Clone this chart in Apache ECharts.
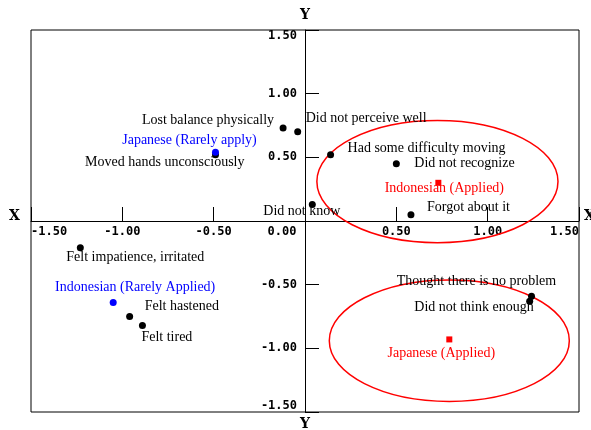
<!DOCTYPE html>
<html>
<head>
<meta charset="utf-8">
<script src="https://cdn.jsdelivr.net/npm/echarts@6/dist/echarts.min.js"></script>
<style>
  html, body { margin: 0; padding: 0; background: #fff; }
  #main { width: 591px; height: 430px; }
</style>
</head>
<body>
<div id="main"></div>
<script>
// black points (items)
const itemNames = [
  'Lost balance physically', 'Did not perceive well', 'Moved hands unconsciously',
  'Had some difficulty moving', 'Did not recognize', 'Forgot about it', 'Did not know',
  'Felt impatience, irritated', 'Felt hastened', 'Felt tired',
  'Thought there is no problem', 'Did not think enough'
];
const itemX = [-0.12, -0.04, -0.49, 0.14, 0.50, 0.58, 0.04, -1.23, -0.96, -0.89, 1.24, 1.23];
const itemY = [0.73, 0.70, 0.52, 0.52, 0.45, 0.05, 0.13, -0.21, -0.75, -0.82, -0.59, -0.63];

// blue points (rarely applied groups)
const blueNames = ['Japanese (Rarely apply)', 'Indonesian (Rarely Applied)'];
const blueX = [-0.49, -1.05];
const blueY = [0.54, -0.64];

// red points (applied groups)
const redNames = ['Indonesian (Applied)', 'Japanese (Applied)'];
const redX = [0.73, 0.79];
const redY = [0.30, -0.93];

// ellipses round the applied groups: centre x, centre y, radius x, radius y
const ellipseCx = [0.725, 0.79];
const ellipseCy = [0.31, -0.94];
const ellipseRx = [0.66, 0.657];
const ellipseRy = [0.48, 0.477];

// label placement: [align, dx, dy]
const labelPlace = {
  'Lost balance physically': ['right', -9, -8],
  'Did not perceive well': ['left', 8, -14],
  'Moved hands unconsciously': ['right', 29, 8],
  'Had some difficulty moving': ['left', 17, -6],
  'Did not recognize': ['left', 18, 0],
  'Forgot about it': ['left', 16, -7],
  'Did not know': ['right', 28, 7],
  'Felt impatience, irritated': ['left', -14, 10],
  'Felt hastened': ['left', 15, -10],
  'Felt tired': ['left', -1, 12],
  'Thought there is no problem': ['center', -55, -15],
  'Did not think enough': ['right', 4, 6],
  'Japanese (Rarely apply)': ['center', -26, -12],
  'Indonesian (Rarely Applied)': ['center', 22, -15],
  'Indonesian (Applied)': ['center', 6, 6],
  'Japanese (Applied)': ['center', -8, 14]
};

const serif = '"Liberation Serif", "DejaVu Serif", serif';
const mono = '"DejaVu Sans Mono", monospace';

function buildData(names, xs, ys) {
  return names.map(function (n, i) {
    const p = labelPlace[n];
    return {
      name: n,
      value: [xs[i], ys[i]],
      label: { align: p[0], offset: [p[1], p[2]] }
    };
  });
}

function pointSeries(names, xs, ys, color, symbol, size) {
  return {
    type: 'scatter',
    symbol: symbol,
    symbolSize: size,
    itemStyle: { color: color, opacity: 1 },
    z: 3,
    label: {
      show: true,
      position: 'inside',
      verticalAlign: 'middle',
      formatter: '{b}',
      color: color,
      fontFamily: serif,
      fontSize: 14
    },
    data: buildData(names, xs, ys)
  };
}

const chart = echarts.init(document.getElementById('main'));

const option = {
  animation: false,
  grid: {
    left: 31, right: 12, top: 30, bottom: 18,
    outerBoundsMode: 'none',
    containLabel: false,
    show: true, borderColor: '#000', borderWidth: 1
  },
  xAxis: {
    type: 'value',
    position: 'bottom',
    offset: -191,
    min: -1.5, max: 1.5, interval: 0.5,
    axisLine: { onZero: false, lineStyle: { color: '#000', width: 1 } },
    axisTick: { show: true, inside: true, length: 14, lineStyle: { color: '#000' } },
    splitLine: { show: false },
    axisLabel: {
      margin: 5,
      color: '#000',
      fontFamily: mono,
      fontWeight: 'bold',
      fontSize: 12,
      alignMinLabel: 'left',
      alignMaxLabel: 'right',
      formatter: function (v) {
        if (v === 0) return '{z|0.00}';
        return v.toFixed(2);
      },
      rich: {
        z: { padding: [0, 46, 0, 0], fontFamily: mono, fontWeight: 'bold', fontSize: 12, color: '#000' }
      }
    }
  },
  yAxis: {
    type: 'value',
    position: 'left',
    offset: -274,
    min: -1.5, max: 1.5, interval: 0.5,
    axisLine: { onZero: false, lineStyle: { color: '#000', width: 1 } },
    axisTick: { show: true, inside: true, length: 14, lineStyle: { color: '#000' } },
    splitLine: { show: false },
    axisLabel: {
      margin: 8,
      color: '#000',
      fontFamily: mono,
      fontWeight: 'bold',
      fontSize: 12,
      verticalAlignMinLabel: 'bottom',
      verticalAlignMaxLabel: 'top',
      formatter: function (v) {
        if (v === 0) return '';
        return v.toFixed(2);
      }
    }
  },
  graphic: [
    { type: 'text', left: 9, top: 209, style: { text: 'X', font: 'bold 14px "DejaVu Serif"', fill: '#000' } },
    { type: 'text', left: 584, top: 209, style: { text: 'X', font: 'bold 14px "DejaVu Serif"', fill: '#000' } },
    { type: 'text', left: 300, top: 8, style: { text: 'Y', font: 'bold 14px "DejaVu Serif"', fill: '#000' } },
    { type: 'text', left: 300, top: 417, style: { text: 'Y', font: 'bold 14px "DejaVu Serif"', fill: '#000' } }
  ],
  series: [
    {
      type: 'custom',
      z: 2,
      silent: true,
      renderItem: function (params, api) {
        const c = api.coord([api.value(0), api.value(1)]);
        const s = api.size([api.value(2), api.value(3)]);
        return {
          type: 'ellipse',
          shape: { cx: c[0], cy: c[1], rx: s[0], ry: s[1] },
          style: { fill: 'none', stroke: '#ff0000', lineWidth: 1.5 }
        };
      },
      data: ellipseCx.map(function (cx, i) {
        return [cx, ellipseCy[i], ellipseRx[i], ellipseRy[i]];
      })
    },
    pointSeries(itemNames, itemX, itemY, '#000000', 'circle', 7),
    pointSeries(blueNames, blueX, blueY, '#0000ff', 'circle', 7),
    pointSeries(redNames, redX, redY, '#ff0000', 'rect', 6)
  ]
};

chart.setOption(option);
</script>
</body>
</html>
